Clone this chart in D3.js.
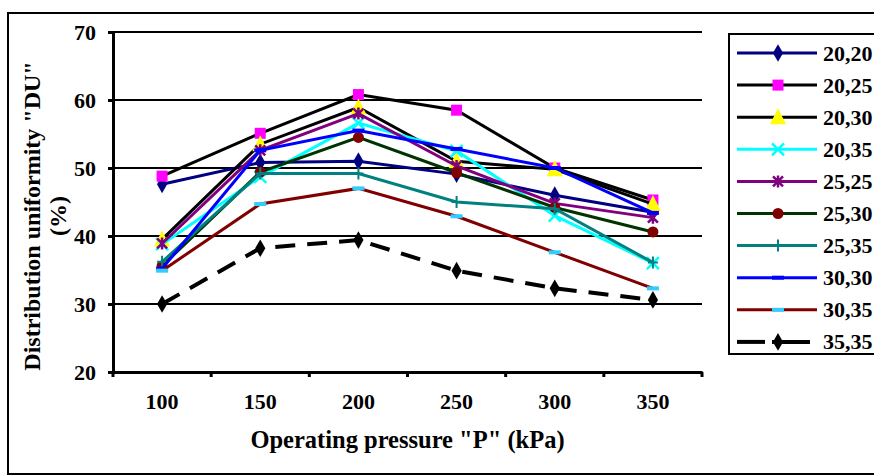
<!DOCTYPE html>
<html><head><meta charset="utf-8">
<script src="https://cdn.jsdelivr.net/npm/d3@7"></script>
<style>
html,body{margin:0;padding:0;background:#fff;}
text{font-family:"Liberation Serif","Times New Roman",serif;font-weight:bold;fill:#000;}
</style></head>
<body><svg id="c" width="874" height="475"></svg>
<script>
const pressures = ["100","150","200","250","300","350"];
const yTicks = [20,30,40,50,60,70];
const seriesNames = ["20,20","20,25","20,30","20,35","25,25","25,30","25,35","30,30","30,35","35,35"];
const s2020 = [47.6,50.8,51.0,49.1,46.0,43.5];
const s2025 = [48.8,55.1,60.8,58.5,50.0,45.3];
const s2030 = [39.5,53.5,58.9,51.0,49.8,44.7];
const s2035 = [38.8,48.7,56.6,52.5,43.0,36.0];
const s2525 = [38.9,52.6,58.0,50.3,44.8,42.7];
const s2530 = [35.6,49.4,54.5,49.3,44.2,40.6];
const s2535 = [36.2,49.2,49.2,45.0,44.0,36.1];
const s3030 = [35.2,52.6,55.5,52.8,50.0,43.4];
const s3035 = [34.9,44.7,47.0,42.9,37.6,32.3];
const s3535 = [30.0,38.2,39.4,34.9,32.3,30.6];
const seriesValues = [s2020,s2025,s2030,s2035,s2525,s2530,s2535,s3030,s3035,s3535];

const styles = [
  {line:"#000080", marker:"diamond", fill:"#000080"},
  {line:"#000000", marker:"square", fill:"#FF00FF"},
  {line:"#000000", marker:"triangle", fill:"#FFFF00"},
  {line:"#00FFFF", marker:"x", fill:"#00FFFF"},
  {line:"#800080", marker:"asterisk", fill:"#800080"},
  {line:"#003300", marker:"circle", fill:"#800000"},
  {line:"#008080", marker:"plus", fill:"#008080"},
  {line:"#0000FF", marker:"dash", fill:"#0000FF"},
  {line:"#800000", marker:"dash", fill:"#33CCFF"},
  {line:"#000000", marker:"diamond", fill:"#000000", dashed:true}
];

const FONT = '"Liberation Serif","Times New Roman",serif';
const svg = d3.select("#c");
// outer border
svg.append("rect").attr("x",8).attr("y",13).attr("width",900).attr("height",461)
  .attr("fill","none").attr("stroke","#000").attr("stroke-width",2);

const L=113, R=702, T=32, B=372;
const x = d3.scaleBand().domain(pressures).range([L,R]);
const y = d3.scaleLinear().domain([20,70]).range([B,T]);

// gridlines
svg.append("g").selectAll("line").data(yTicks.filter(d=>d>20)).join("line")
  .attr("x1",L).attr("x2",R).attr("y1",d=>y(d)).attr("y2",d=>y(d))
  .attr("stroke","#000").attr("stroke-width",2);

// y axis
const ya = svg.append("g").attr("transform",`translate(${L},0)`)
  .call(d3.axisLeft(y).tickValues(yTicks).tickSize(5).tickPadding(12).tickFormat(d3.format("d")));
ya.select(".domain").attr("stroke","#000").attr("stroke-width",3);
ya.selectAll(".tick line").attr("stroke","#000").attr("stroke-width",3);
ya.selectAll(".tick text").style("font-size","22px").style("font-family",FONT).style("font-weight","bold").attr("fill","#000");

// x axis
const xa = svg.append("g").attr("transform",`translate(0,${B})`)
  .call(d3.axisBottom(x).tickSize(0).tickPadding(21));
xa.select(".domain").attr("stroke","#000").attr("stroke-width",3);
xa.selectAll(".tick text").style("font-size","22px").style("font-family",FONT).style("font-weight","bold").attr("fill","#000");
// band boundary ticks
const bounds = pressures.map(p=>x(p)).concat([x(pressures[pressures.length-1])+x.bandwidth()]);
svg.append("g").selectAll("line").data(bounds).join("line")
  .attr("x1",d=>d).attr("x2",d=>d).attr("y1",B).attr("y2",B+5)
  .attr("stroke","#000").attr("stroke-width",3);

// titles
svg.append("text").attr("x",(L+R)/2).attr("y",448).attr("text-anchor","middle")
  .style("font-size","24.5px").text('Operating pressure "P" (kPa)');
const yt = svg.append("text").attr("transform","translate(40,216) rotate(-90)").attr("text-anchor","middle")
  .style("font-size","24px");
yt.append("tspan").attr("x",0).attr("dy",0).text('Distribution uniformity "DU"');
yt.append("tspan").attr("x",0).attr("dy",26).text('(%)');

function drawMarker(g, type, fill, cx, cy){
  if(type==="diamond"){
    g.append("path").attr("d",d3.symbol(d3.symbolDiamond, 90)()).attr("transform",`translate(${cx},${cy})`).attr("fill",fill);
  } else if(type==="square"){
    g.append("rect").attr("x",cx-5.5).attr("y",cy-5.5).attr("width",11).attr("height",11).attr("fill",fill);
  } else if(type==="triangle"){
    g.append("path").attr("d",`M${cx},${cy-9}L${cx+8},${cy+7}L${cx-8},${cy+7}Z`).attr("fill",fill);
  } else if(type==="x"){
    g.append("path").attr("d",`M${cx-6},${cy-6}L${cx+6},${cy+6}M${cx-6},${cy+6}L${cx+6},${cy-6}`).attr("stroke",fill).attr("stroke-width",2.5);
  } else if(type==="asterisk"){
    g.append("path").attr("d",`M${cx-5},${cy-5}L${cx+5},${cy+5}M${cx-5},${cy+5}L${cx+5},${cy-5}M${cx},${cy-6}L${cx},${cy+6}`).attr("stroke",fill).attr("stroke-width",2.5);
  } else if(type==="circle"){
    g.append("circle").attr("cx",cx).attr("cy",cy).attr("r",5.5).attr("fill",fill);
  } else if(type==="plus"){
    g.append("path").attr("d",`M${cx-5},${cy}L${cx+5},${cy}M${cx},${cy-6}L${cx},${cy+6}`).attr("stroke",fill).attr("stroke-width",2);
  } else if(type==="dash"){
    g.append("rect").attr("x",cx-6).attr("y",cy-2).attr("width",12).attr("height",4).attr("fill",fill);
  }
}

const line = d3.line().x((d,i)=>x(pressures[i])+x.bandwidth()/2).y(d=>y(d));
seriesValues.forEach((vals,k)=>{
  const st = styles[k];
  const g = svg.append("g");
  g.append("path").attr("d",line(vals)).attr("fill","none").attr("stroke",st.line)
    .attr("stroke-width",st.dashed?4:3).attr("stroke-dasharray",st.dashed?"20,12":null);
  vals.forEach((v,i)=>drawMarker(g, st.marker, st.fill, x(pressures[i])+x.bandwidth()/2, y(v)));
});

// legend
const lg = svg.append("g");
lg.append("rect").attr("x",729).attr("y",34).attr("width",200).attr("height",320)
  .attr("fill","#fff").attr("stroke","#000").attr("stroke-width",2);
seriesNames.forEach((n,k)=>{
  const st = styles[k];
  const ry = 53 + k*32.1;
  const g = lg.append("g");
  if(st.dashed){
    g.append("line").attr("x1",737).attr("x2",765).attr("y1",ry).attr("y2",ry).attr("stroke",st.line).attr("stroke-width",4);
    g.append("line").attr("x1",772).attr("x2",810).attr("y1",ry).attr("y2",ry).attr("stroke",st.line).attr("stroke-width",4);
  } else {
    g.append("line").attr("x1",737).attr("x2",817).attr("y1",ry).attr("y2",ry).attr("stroke",st.line).attr("stroke-width",3);
  }
  drawMarker(g, st.marker, st.fill, 778, ry);
  g.append("text").attr("x",823).attr("y",ry+7.5).style("font-size","22px").text(n);
});
</script></body></html>
